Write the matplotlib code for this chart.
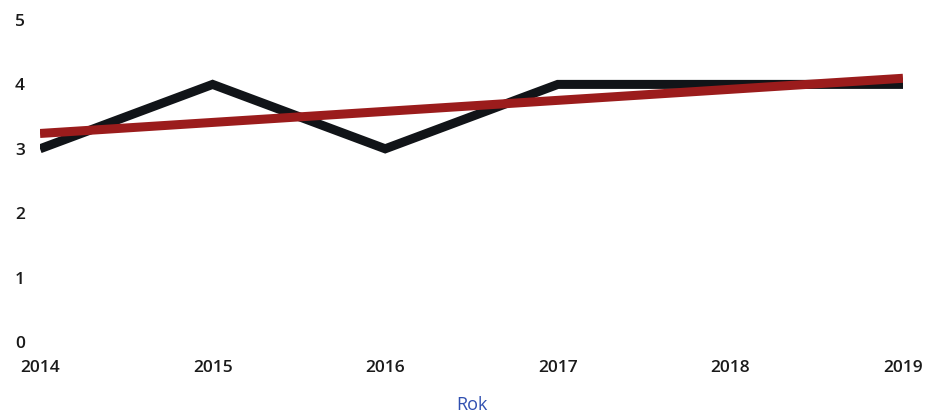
import numpy as np
import matplotlib
matplotlib.use("Agg")
import matplotlib.pyplot as plt

plt.rcParams['font.family'] = ['Open Sans', 'DejaVu Sans']

years = [2014, 2015, 2016, 2017, 2018, 2019]
values = [3, 4, 3, 4, 4, 4]
y_ticks = [0, 1, 2, 3, 4, 5]

# linear trend of the series
slope, intercept = np.polyfit(years, values, 1)
trend = [slope * y + intercept for y in years]

fig = plt.figure(figsize=(9.25, 4.19), dpi=100)
ax = fig.add_axes([40 / 925, 77 / 419, 863 / 925, 322 / 419])

ax.plot(years, values, color='#111418', linewidth=6.5, solid_capstyle='butt',
        solid_joinstyle='miter')
ax.plot(years, trend, color='#9b1c1c', linewidth=6.5, solid_capstyle='butt')

ax.set_xlim(2014, 2019)
ax.set_ylim(0, 5)
ax.set_xticks(years)
ax.set_xticklabels([str(y) for y in years], fontsize=12.5, color='#1a1a1a',
                   fontweight='semibold')
ax.set_yticks(y_ticks)
ax.set_yticklabels([str(t) for t in y_ticks], fontsize=12.5, color='#1a1a1a',
                   fontweight='semibold')
ax.tick_params(axis='both', length=0)
ax.tick_params(axis='x', pad=13)
ax.tick_params(axis='y', pad=11)
for s in ax.spines.values():
    s.set_visible(False)

ax.set_xlabel('Rok', fontsize=13, color='#2f4fb0', labelpad=14)

fig.savefig('out.png', dpi=100)
